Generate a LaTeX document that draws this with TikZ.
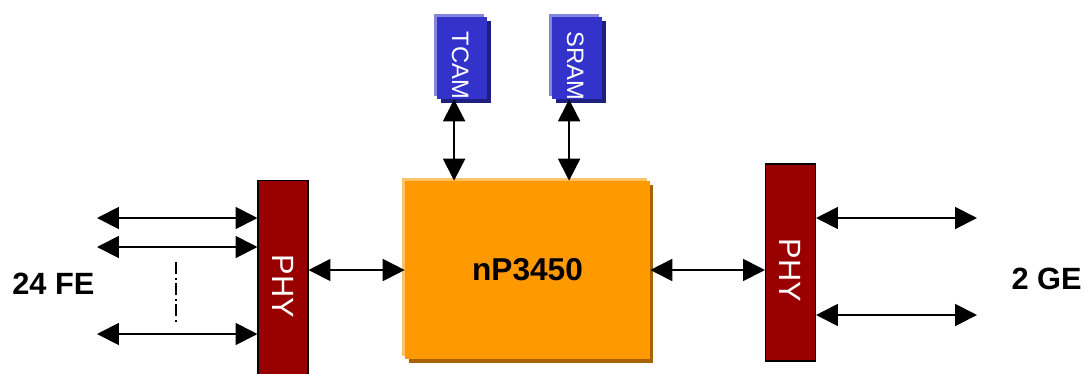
\documentclass[tikz,border=0pt]{standalone}
\usepackage{fontspec}
\setmainfont{Liberation Sans}
\usetikzlibrary{arrows.meta}
\definecolor{memblue}{HTML}{3333CC}
\definecolor{memlight}{HTML}{8585E0}
\definecolor{memdark}{HTML}{1F1F80}
\definecolor{nporange}{HTML}{FF9900}
\definecolor{nplight}{HTML}{FFC266}
\definecolor{npdark}{HTML}{A66300}
\definecolor{phyred}{HTML}{990000}
\begin{document}
\begin{tikzpicture}[x=0.02cm,y=-0.02cm,
  link/.style={{Triangle[length=12.5pt,width=12.5pt]}-{Triangle[length=12.5pt,width=12.5pt]},line width=1.1pt},
  mem/.style={fill=memblue,minimum width=1cm,minimum height=1.64cm,inner sep=0,
    preaction={fill=memdark,transform canvas={shift={(2pt,-2pt)}}},
    preaction={fill=memlight,transform canvas={shift={(-1.6pt,1.6pt)}}}},
  memtxt/.style={rotate=-90,text=white,font=\fontsize{13.5}{14}\selectfont,inner sep=0},
  np/.style={fill=nporange,minimum width=4.9cm,minimum height=3.56cm,inner sep=0,
    font=\bfseries\fontsize{18}{20}\selectfont,
    preaction={fill=npdark,transform canvas={shift={(2pt,-2pt)}}},
    preaction={fill=nplight,transform canvas={shift={(-1.5pt,1.5pt)}}}},
  phy/.style={draw=black,fill=phyred,line width=0.6pt,minimum width=1cm,minimum height=3.94cm,inner sep=0},
  phytxt/.style={rotate=-90,text=white,font=\fontsize{17.5}{18}\selectfont,inner sep=0},
  port/.style={font=\bfseries\fontsize{17.5}{18}\selectfont,inner sep=0}]
\useasboundingbox (0,0) rectangle (1085,373);
% memories on top
\node[mem](tcam) at (462,58){};
\node[mem](sram) at (577,58){};
\node[memtxt] at ([xshift=-1pt,yshift=-4.3pt]tcam.center){TCAM};
\node[memtxt] at ([xshift=-1pt,yshift=-4.3pt]sram.center){SRAM};
% processor and phys
\node[np](np) at (527.5,270){nP3450};
\node[phy](phyl) at (283,278.5){};
\node[phy](phyr) at (790.5,262.5){};
\node[phytxt] at ([yshift=-4.5pt]phyl.center){PHY};
\node[phytxt] at ([yshift=-4.5pt]phyr.center){PHY};
\node[port,anchor=west](fe) at (12,284){24 FE};
\node[port,anchor=east](ge) at (1082,279){2 GE};
% free ends
\coordinate(tcamport) at ([xshift=-4.5pt]tcam.south);
\coordinate(sramport) at ([xshift=-4.5pt]sram.south);
\coordinate(fe1) at (97,218);
\coordinate(fe2) at (97,247);
\coordinate(fe3) at (97,334);
\coordinate(dota) at (176,262);
\coordinate(dotb) at (176,324);
\coordinate(ge1) at (977,218);
\coordinate(ge2) at (977,315);
% links
\draw[link](tcamport) -- (tcamport |- np.north);
\draw[link](sramport) -- (sramport |- np.north);
\draw[link](fe1) -- (fe1 -| phyl.west);
\draw[link](fe2) -- (fe2 -| phyl.west);
\draw[link](fe3) -- (fe3 -| phyl.west);
\draw[line width=0.8pt,dash pattern=on 7pt off 2pt on 1pt off 2pt](dota) -- (dotb);
\draw[link](np.west) -- (np.west -| phyl.east);
\draw[link](np.east) -- (np.east -| phyr.west);
\draw[link](ge1 -| phyr.east) -- (ge1);
\draw[link](ge2 -| phyr.east) -- (ge2);
\end{tikzpicture}
\end{document}
